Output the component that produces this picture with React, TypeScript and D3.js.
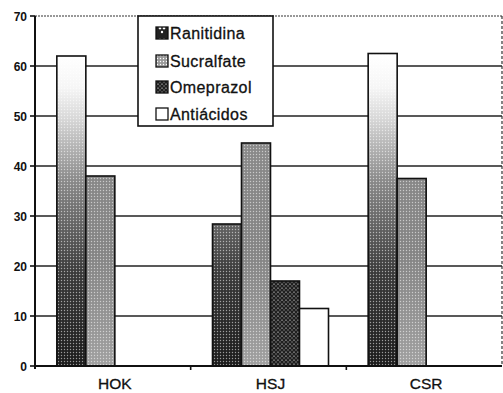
import React from "react";
import * as d3 from "d3";

const categories = ["HOK", "HSJ", "CSR"];
const seriesNames = ["Ranitidina", "Sucralfate", "Omeprazol", "Antiácidos"];
const ranitidina = [62, 28.4, 62.5];
const sucralfate = [38, 44.6, 37.5];
const omeprazol = [0, 17, 0];
const antiacidos = [0, 11.5, 0];
const yTicks = [0, 10, 20, 30, 40, 50, 60, 70];

const seriesValues = [ranitidina, sucralfate, omeprazol, antiacidos];
const fills = ["url(#gRan)", "url(#gSuc)", "url(#pOme)", "#ffffff"];

const W = 503;
const H = 393;
const axisX = 35;
const rightX = 502;

export default function App() {
  const y = d3.scaleLinear().domain([0, 70]).range([366, 16]);
  const x0 = d3.scaleBand<string>().domain(categories).range([37, 504]).paddingInner(0).paddingOuter(0);
  const groupW = 116;
  const x1 = d3.scaleBand<string>().domain(seriesNames).range([0, groupW]).padding(0);
  const font = "'Liberation Sans', Arial, Helvetica, sans-serif";

  return (
    <svg width={W} height={H} style={{ position: "absolute", left: 0, top: 0, background: "#fff" }}>
      <defs>
        <linearGradient id="gRan" gradientUnits="userSpaceOnUse" x1="0" y1={y(0)} x2="0" y2={y(62)}>
          <stop offset="0" stopColor="#1c1c1c" />
          <stop offset="0.3" stopColor="#3a3a3a" />
          <stop offset="0.6" stopColor="#8a8a8a" />
          <stop offset="0.8" stopColor="#d8d8d8" />
          <stop offset="0.9" stopColor="#f6f6f6" />
          <stop offset="1" stopColor="#ffffff" />
        </linearGradient>
        <linearGradient id="gSuc" gradientUnits="userSpaceOnUse" x1="0" y1={y(0)} x2="0" y2={y(45)}>
          <stop offset="0" stopColor="#a0a0a0" />
          <stop offset="0.5" stopColor="#848484" />
          <stop offset="1" stopColor="#8a8a8a" />
        </linearGradient>
        <pattern id="dots" width="3" height="3" patternUnits="userSpaceOnUse">
          <circle cx="1.5" cy="1.5" r="0.7" fill="#ffffff" opacity="0.55" />
        </pattern>
        <pattern id="pOme" width="4" height="4" patternUnits="userSpaceOnUse">
          <rect width="4" height="4" fill="#4a4a4a" />
          <path d="M0,0 L4,4 M4,0 L0,4" stroke="#1a1a1a" strokeWidth="0.9" />
          <circle cx="2" cy="0" r="0.6" fill="#bbbbbb" />
        </pattern>
        <pattern id="swRan" width="12" height="12" patternUnits="userSpaceOnUse">
          <rect width="12" height="12" fill="#222" />
          <circle cx="4" cy="4" r="1.4" fill="#fff" />
          <circle cx="8" cy="4" r="1.4" fill="#fff" />
          <circle cx="6" cy="8" r="1.2" fill="#fff" />
        </pattern>
        <pattern id="swSuc" width="3" height="3" patternUnits="userSpaceOnUse">
          <rect width="3" height="3" fill="#9a9a9a" />
          <circle cx="1.5" cy="1.5" r="0.7" fill="#fff" />
        </pattern>
      </defs>

      {/* gridlines */}
      {yTicks.filter((t) => t > 0 && t < 70).map((t) => (
        <line key={"g" + t} x1={axisX} x2={rightX} y1={y(t)} y2={y(t)} stroke="#222" strokeWidth={1.4} />
      ))}
      {/* top dashed border */}
      <line x1={axisX} x2={rightX} y1={y(70)} y2={y(70)} stroke="#333" strokeWidth={1.2} strokeDasharray="2,1" />
      {/* right dashed border */}
      <line x1={rightX} x2={rightX} y1={y(70)} y2={y(0)} stroke="#333" strokeWidth={1.2} strokeDasharray="3,2" />

      {/* bars */}
      {categories.map((c, ci) => {
        const gx = x0(c)! + x0.bandwidth() / 2 - groupW / 2;
        return seriesNames.map((s, si) => {
          const v = seriesValues[si][ci];
          if (!v) return null;
          const bx = gx + x1(s)!;
          return (
            <g key={c + s}>
              <rect x={bx} y={y(v)} width={x1.bandwidth()} height={y(0) - y(v)} fill={fills[si]} stroke="#111" strokeWidth={1.6} />
              {si < 2 && (
                <rect x={bx + 1} y={y(v) + 1} width={x1.bandwidth() - 2} height={y(0) - y(v) - 2} fill="url(#dots)" />
              )}
            </g>
          );
        });
      })}

      {/* y axis */}
      <line x1={axisX} x2={axisX} y1={y(70)} y2={y(0) + 3} stroke="#111" strokeWidth={2} />
      {yTicks.map((t) => (
        <g key={"t" + t}>
          <line x1={axisX - 5} x2={axisX} y1={y(t)} y2={y(t)} stroke="#111" strokeWidth={1.6} />
          <text x={27} y={y(t) + 4.5} textAnchor="end" fontFamily={font} fontWeight="bold" fontSize={12} fill="#111">
            {t}
          </text>
        </g>
      ))}
      {/* x axis */}
      <line x1={axisX} x2={rightX} y1={y(0)} y2={y(0)} stroke="#111" strokeWidth={2} />
      {categories.slice(1).map((c) => (
        <line key={"xt" + c} x1={x0(c)! - 2} x2={x0(c)! - 2} y1={y(0)} y2={y(0) + 4} stroke="#111" strokeWidth={1.6} />
      ))}
      {categories.map((c) => (
        <text key={"xl" + c} x={x0(c)! + x0.bandwidth() / 2} y={389} textAnchor="middle" fontFamily={font} fontSize={15.5} fill="#111" stroke="#111" strokeWidth={0.3}>
          {c}
        </text>
      ))}

      {/* legend */}
      <rect x={138} y={16} width={135} height={110} fill="#fff" stroke="#111" strokeWidth={1.6} />
      {seriesNames.map((s, i) => {
        const cy = [33, 61, 87, 114][i];
        const swFill = ["url(#swRan)", "url(#swSuc)", "url(#pOme)", "#fff"][i];
        return (
          <g key={"lg" + s}>
            <rect x={156} y={cy - 6} width={12} height={12} fill={swFill} stroke="#111" strokeWidth={1.3} />
            <text x={170} y={cy + 6} fontFamily={font} fontSize={16} letterSpacing={0.4} fill="#111" stroke="#111" strokeWidth={0.3}>
              {s}
            </text>
          </g>
        );
      })}
    </svg>
  );
}
